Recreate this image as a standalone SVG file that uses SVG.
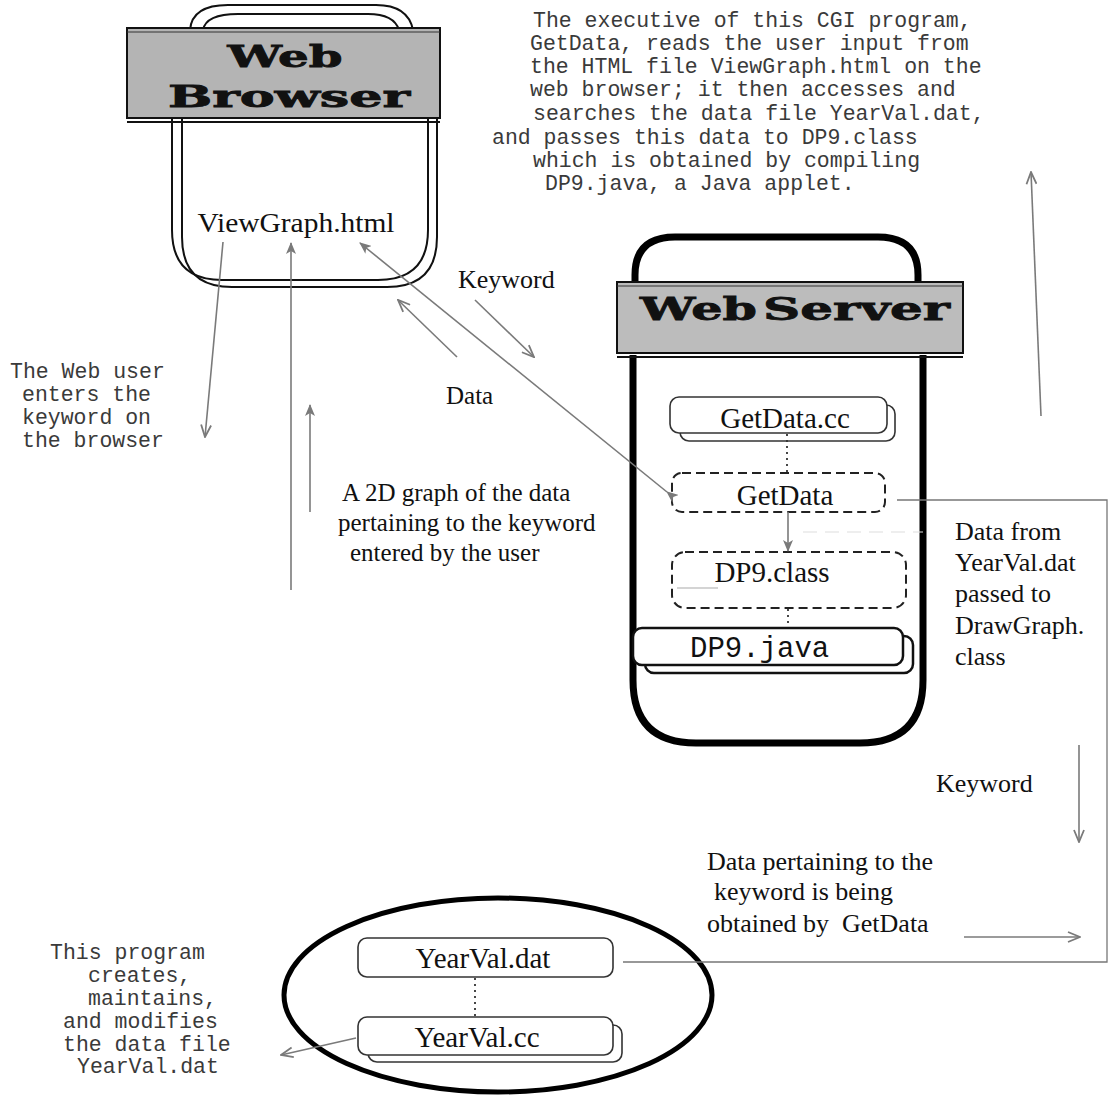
<svg xmlns="http://www.w3.org/2000/svg" width="1110" height="1097" viewBox="0 0 1110 1097">
<defs>
<marker id="tri" viewBox="0 0 12 10" refX="11" refY="5" markerWidth="12" markerHeight="10" markerUnits="userSpaceOnUse" orient="auto">
<path d="M0,0 L12,5 L0,10 L3,5 Z" fill="#7a7a7a"/>
</marker>
<marker id="chev" viewBox="0 0 14 12" refX="13" refY="6" markerWidth="14" markerHeight="12" markerUnits="userSpaceOnUse" orient="auto">
<path d="M1,1 L13,6 L1,11" fill="none" stroke="#7a7a7a" stroke-width="1.8"/>
</marker>
</defs>
<style>
.times{font-family:"Liberation Serif","Times New Roman",serif;fill:#111}
.mono{font-family:"Liberation Mono","Courier New",monospace;fill:#3a3a3a;font-size:21.5px}
.head{font-family:"DejaVu Serif","Liberation Serif",serif;font-weight:bold;fill:#111;stroke:#111;stroke-width:0.8}
.bar{stroke:#111;stroke-width:2}
.thin{fill:none;stroke:#111;stroke-width:2}
.thick{fill:none;stroke:#000;stroke-width:7}
.box{fill:#fff;stroke:#333;stroke-width:1.6}
.dash{fill:#fff;stroke:#222;stroke-width:2;stroke-dasharray:9 5}
.arr{fill:none;stroke:#7a7a7a;stroke-width:1.6}
.dot{fill:none;stroke:#333;stroke-width:1.8;stroke-dasharray:2 4}
.conn{fill:none;stroke:#777;stroke-width:1.3}
</style>

<!-- Web Browser -->
<g id="web-browser">
<path class="thin" d="M190,30 Q192,5 228,5 H376 Q408,5 413,30"/>
<path class="thin" d="M203,30 Q206,14 238,14 H368 Q394,14 399,30"/>
<path class="thin" d="M182,118 V237 Q182,287 232,287 H387 Q437,287 437,237 V118"/>
<path class="thin" d="M172,118 V230 Q172,280 222,280 H378 Q428,280 428,230 V118"/>
<rect class="bar" x="127" y="28" width="313" height="90" fill="#b4b4b4"/>
<line x1="127" y1="32" x2="440" y2="32" stroke="#333" stroke-width="1"/>
<line x1="127" y1="122" x2="440" y2="122" stroke="#111" stroke-width="2"/>
<text class="head" x="285" y="67" font-size="30" text-anchor="middle" textLength="115" lengthAdjust="spacingAndGlyphs">Web</text>
<text class="head" x="289" y="107" font-size="30" text-anchor="middle" textLength="242" lengthAdjust="spacingAndGlyphs">Browser</text>
<text class="times" x="296" y="232" font-size="28" text-anchor="middle" textLength="197" lengthAdjust="spacingAndGlyphs">ViewGraph.html</text>
</g>

<!-- Web Server -->
<g id="web-server">
<path class="thick" stroke-width="6" d="M635,284 V275 Q635,237 675,237 H878 Q918,237 918,275 V284"/>
<path class="thick" d="M633,355 V680 Q633,743 696,743 H860 Q923,743 923,680 V355"/>
<rect class="bar" x="617" y="282" width="346" height="71" fill="#bcbcbc"/>
<line x1="617" y1="286" x2="963" y2="286" stroke="#333" stroke-width="1"/>
<line x1="617" y1="357" x2="963" y2="357" stroke="#111" stroke-width="2"/>
<text class="head" x="640" y="320" font-size="32" textLength="117" lengthAdjust="spacingAndGlyphs">Web</text>
<text class="head" x="763" y="320" font-size="32" textLength="187" lengthAdjust="spacingAndGlyphs">Server</text>
</g>

<g id="getdata-cc">
<rect class="box" x="680" y="405" width="215" height="36" rx="9"/>
<rect class="box" x="670" y="397" width="217" height="36" rx="9"/>
<text class="times" x="785" y="428" font-size="29" text-anchor="middle">GetData.cc</text>
</g>

<g id="getdata">
<rect class="dash" x="672" y="473" width="213" height="39" rx="10"/>
<text class="times" x="785" y="505" font-size="29" text-anchor="middle">GetData</text>
</g>

<g id="dp9-class">
<rect class="dash" x="672" y="552" width="234" height="56" rx="13"/>
<text class="times" x="772" y="582" font-size="29" text-anchor="middle">DP9.class</text>
<line x1="677" y1="588" x2="718" y2="588" stroke="#aaa" stroke-width="1.2"/>
</g>

<g id="dp9-java">
<rect x="645" y="636" width="268" height="37" rx="9" fill="#fff" stroke="#111" stroke-width="2.5"/>
<rect x="633" y="628" width="270" height="37" rx="9" fill="#fff" stroke="#111" stroke-width="2.5"/>
<text x="690" y="657" font-family="'Liberation Mono','Courier New',monospace" font-size="29" fill="#111">DP9.java</text>
</g>

<!-- Data file ellipse -->
<g id="data-store">
<ellipse cx="498" cy="995" rx="214" ry="97" fill="none" stroke="#000" stroke-width="5"/>
</g>
<g id="yearval-dat">
<rect class="box" x="358" y="938" width="255" height="39" rx="9"/>
<text class="times" x="483" y="968" font-size="29" text-anchor="middle">YearVal.dat</text>
</g>
<g id="yearval-cc">
<rect class="box" x="368" y="1025" width="254" height="37" rx="9"/>
<rect class="box" x="358" y="1017" width="255" height="38" rx="9"/>
<text class="times" x="477" y="1047" font-size="29" text-anchor="middle">YearVal.cc</text>
</g>

<!-- connectors -->
<g id="connectors">
<line class="dot" x1="787" y1="434" x2="787" y2="472"/>
<line class="dot" x1="788" y1="609" x2="788" y2="627"/>
<line class="dot" x1="475" y1="978" x2="475" y2="1016"/>
<line class="arr" x1="788" y1="512" x2="788" y2="551" marker-end="url(#tri)"/>
<line x1="803" y1="532" x2="923" y2="532" stroke="#ddd" stroke-width="1.2" stroke-dasharray="14 8"/>
<line class="arr" x1="223" y1="242" x2="205" y2="437" marker-end="url(#chev)"/>
<line class="arr" x1="291" y1="590" x2="291" y2="243" marker-end="url(#tri)"/>
<line class="arr" x1="310" y1="512" x2="310" y2="405" marker-end="url(#tri)"/>
<line class="arr" x1="667" y1="492" x2="360" y2="243" marker-end="url(#tri)" marker-start="url(#tri)"/>
<line class="arr" x1="457" y1="357" x2="398" y2="300" marker-end="url(#chev)"/>
<line class="arr" x1="475" y1="300" x2="534" y2="357" marker-end="url(#chev)"/>
<line class="arr" x1="1041" y1="416" x2="1031" y2="172" marker-end="url(#chev)"/>
<polyline class="conn" points="897,500 1107,500 1107,962 623,962"/>
<line class="arr" x1="1079" y1="745" x2="1079" y2="842" marker-end="url(#chev)"/>
<line class="arr" x1="964" y1="937" x2="1080" y2="937" marker-end="url(#chev)"/>
<line class="arr" x1="356" y1="1038" x2="281" y2="1055" marker-end="url(#chev)"/>
</g>

<!-- labels -->
<g id="labels">
<text class="mono" x="533" y="27">The executive of this CGI program,</text>
<text class="mono" x="530" y="50">GetData, reads the user input from</text>
<text class="mono" x="530" y="73">the HTML file ViewGraph.html on the</text>
<text class="mono" x="530" y="96">web browser; it then accesses and</text>
<text class="mono" x="533" y="120">searches the data file YearVal.dat,</text>
<text class="mono" x="492" y="144">and passes this data to DP9.class</text>
<text class="mono" x="533" y="167">which is obtained by compiling</text>
<text class="mono" x="545" y="190">DP9.java, a Java applet.</text>

<text class="mono" x="10" y="378">The Web user</text>
<text class="mono" x="22" y="401">enters the</text>
<text class="mono" x="22" y="424">keyword on</text>
<text class="mono" x="22" y="447">the browser</text>

<text class="mono" x="50" y="959">This program</text>
<text class="mono" x="88" y="982">creates,</text>
<text class="mono" x="88" y="1005">maintains,</text>
<text class="mono" x="63" y="1028">and modifies</text>
<text class="mono" x="63" y="1051">the data file</text>
<text class="mono" x="77" y="1073">YearVal.dat</text>

<text class="times" x="458" y="288" font-size="26">Keyword</text>
<text class="times" x="446" y="404" font-size="25">Data</text>
<text class="times" x="342" y="501" font-size="25">A 2D graph of the data</text>
<text class="times" x="338" y="531" font-size="25">pertaining to the keyword</text>
<text class="times" x="350" y="561" font-size="25">entered by the user</text>

<text class="times" x="955" y="540" font-size="26">Data from</text>
<text class="times" x="955" y="571" font-size="26">YearVal.dat</text>
<text class="times" x="955" y="602" font-size="26">passed to</text>
<text class="times" x="955" y="634" font-size="26">DrawGraph.</text>
<text class="times" x="955" y="665" font-size="26">class</text>

<text class="times" x="936" y="792" font-size="26">Keyword</text>
<text class="times" x="707" y="870" font-size="26">Data pertaining to the</text>
<text class="times" x="714" y="900" font-size="26">keyword is being</text>
<text class="times" x="707" y="932" font-size="26">obtained by&#160; GetData</text>
</g>
</svg>
